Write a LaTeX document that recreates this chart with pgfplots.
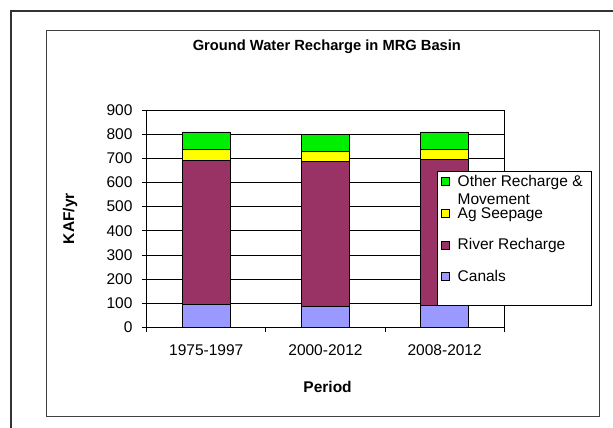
\documentclass[border=0pt]{standalone}
\usepackage{pgfplots}
\pgfplotsset{compat=1.18}
\usepackage{fontspec}
\setmainfont{Liberation Sans}
\definecolor{cother}{HTML}{00EE00}
\definecolor{cag}{HTML}{FFFF00}
\definecolor{criver}{HTML}{993366}
\definecolor{ccanal}{HTML}{9999FF}
\newcommand{\tickfont}{\fontsize{15.5}{18}\selectfont}
\newcommand{\legfont}{\fontsize{15.5}{18}\selectfont}
\newcommand{\titfont}{\fontsize{14.7}{17}\selectfont\bfseries}
\newcommand{\labfont}{\fontsize{15.5}{18}\selectfont\bfseries}
\pgfplotsset{sq/.style={legend image code/.code={\draw[##1,draw=black,line width=0.6pt] (0pt,-4pt) rectangle (8pt,4pt);}}}
\begin{document}
\begin{tikzpicture}[x=1pt,y=1pt]
\useasboundingbox (0,0) rectangle (613,428);
\draw[line width=2pt, black!80] (11,-5) -- (11,417) -- (620,417);
\draw[line width=1pt, black!75] (46,11) rectangle (599,397);
\begin{axis}[
  at={(146.6pt,100.7pt)}, anchor=south west,
  scale only axis, width=357.7pt, height=217.3pt,
  ybar stacked, bar width=48pt,
  xmin=-0.5, xmax=2.5, ymin=0, ymax=900,
  xtick={-0.5,0.5,1.5,2.5}, xticklabels={},
  extra x ticks={0,1,2}, extra x tick labels={1975-1997,2000-2012,2008-2012},
  extra x tick style={major tick length=0pt, xticklabel style={anchor=base, yshift=-28pt}},
  ytick={0,100,...,900},
  /pgf/number format/assume math mode=true,
  ymajorgrids, grid style={black, line width=0.7pt},
  xtick pos=bottom, ytick pos=left, tick align=outside, major tick length=5pt,
  tick style={black, line width=0.7pt},
  axis line style={black, line width=0.8pt},
  ticklabel style={font=\tickfont},
  yticklabel style={anchor=east, inner sep=0pt, xshift=-9pt},
  xlabel={Period}, ylabel={KAF/yr},
  every axis x label/.style={at={(rel axis cs:0.506,-0.273)}, anchor=center, font=\labfont},
  every axis y label/.style={at={(rel axis cs:-0.214,0.5)}, rotate=90, anchor=center, font=\labfont},
  title={Ground Water Recharge in MRG Basin},
  title style={font=\titfont, at={(rel axis cs:0.504,1.245)}, anchor=base},
  reverse legend,
  legend style={at={(rel axis cs:0.811,0.719)}, anchor=north west, draw=black, line width=0.8pt, fill=white,
    font=\legfont, inner xsep=4pt, inner ysep=3pt, row sep=17.7pt,
    nodes={inner sep=0pt, text height=12pt, text depth=2pt},
    /tikz/every odd column/.append style={column sep=8pt},
    /tikz/row 5/.style={nodes={text height=0pt, text depth=0pt}}},
  legend cell align=left,
]
\addlegendimage{empty legend}
\addlegendentry{}
\addplot[fill=ccanal, draw=black, line width=0.6pt, sq] coordinates {(0,96) (1,85) (2,91)};
\addlegendentry{Canals}
\addplot[fill=criver, draw=black, line width=0.6pt, sq] coordinates {(0,594) (1,603) (2,605)};
\addlegendentry{River Recharge}
\addplot[fill=cag, draw=black, line width=0.6pt, sq] coordinates {(0,47) (1,39) (2,41)};
\addlegendentry{Ag Seepage}
\addplot[fill=cother, draw=black, line width=0.6pt, sq] coordinates {(0,72) (1,72) (2,72)};
\addlegendentry{\smash{\begin{tabular}[t]{@{}l@{}}Other Recharge \&\hspace*{5pt}\\Movement\end{tabular}}}
\end{axis}
\end{tikzpicture}
\end{document}
